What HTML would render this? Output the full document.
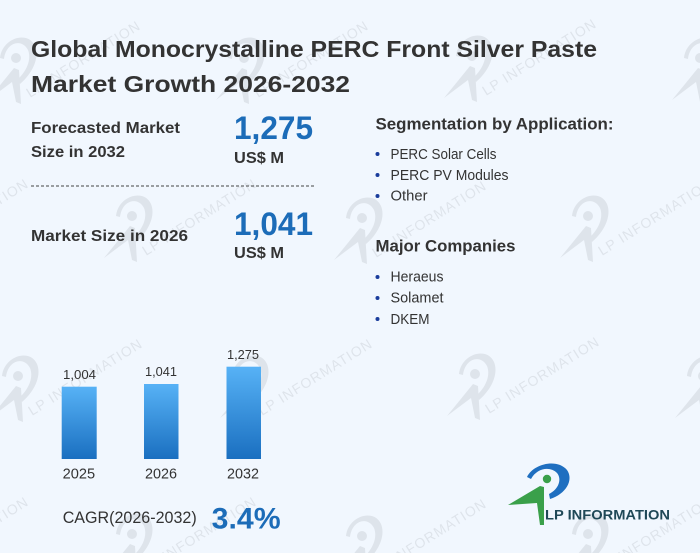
<!DOCTYPE html>
<html><head><meta charset="utf-8"><style>
html,body{margin:0;padding:0;background:#f1f7fe;width:700px;height:553px;overflow:hidden;}
svg{display:block;font-family:"Liberation Sans",sans-serif;overflow:hidden;}
</style></head><body>
<svg width="700" height="553" viewBox="0 0 700 553" xmlns="http://www.w3.org/2000/svg">
<defs>
<linearGradient id="bg" x1="0" y1="0" x2="0" y2="1">
<stop offset="0" stop-color="#57b2f6"/><stop offset="1" stop-color="#1a6fc0"/>
</linearGradient>
<g id="wm" fill="#cdd2d9" opacity="0.5">
<path d="M12 26 C14 6 40 -2 47 14 C52 26 44 42 32 52 L29 48 C38 40 44 28 40 18 C34 6 18 10 16 27 Z"/>
<circle cx="28" cy="26" r="5"/>
<polygon points="0,68 26,36 31,38 33,72 28,70 24,50"/>
<text x="42" y="66" font-size="14" transform="rotate(-32 42 66)" letter-spacing="1">LP INFORMATION</text>
</g>
</defs>
<rect width="700" height="553" fill="#f1f7fe"/>
<!-- watermarks -->
<use href="#wm" x="-12" y="32"/><use href="#wm" x="216" y="32"/><use href="#wm" x="444" y="30"/><use href="#wm" x="672" y="32"/>
<use href="#wm" x="-124" y="190"/><use href="#wm" x="104" y="190"/><use href="#wm" x="334" y="192"/><use href="#wm" x="560" y="190"/>
<use href="#wm" x="-10" y="350"/><use href="#wm" x="220" y="350"/><use href="#wm" x="447" y="348"/><use href="#wm" x="675" y="350"/>
<use href="#wm" x="-124" y="508"/><use href="#wm" x="104" y="508"/><use href="#wm" x="334" y="510"/><use href="#wm" x="560" y="508"/>

<!-- title -->
<g fill="#333" font-weight="bold" font-size="23">
<text x="31" y="57" textLength="566" lengthAdjust="spacingAndGlyphs">Global Monocrystalline PERC Front Silver Paste</text>
<text x="31" y="92" textLength="319" lengthAdjust="spacingAndGlyphs">Market Growth 2026-2032</text>
</g>

<!-- left stats -->
<g fill="#333" font-weight="bold" font-size="16">
<text x="31" y="133" textLength="149" lengthAdjust="spacingAndGlyphs">Forecasted Market</text>
<text x="31" y="157" textLength="94" lengthAdjust="spacingAndGlyphs">Size in 2032</text>
<text x="31" y="241" textLength="157" lengthAdjust="spacingAndGlyphs">Market Size in 2026</text>
<text x="234" y="163" textLength="50" lengthAdjust="spacingAndGlyphs">US$ M</text>
<text x="234" y="258" textLength="50" lengthAdjust="spacingAndGlyphs">US$ M</text>
</g>
<g fill="#1c6cb8" font-weight="bold" font-size="32">
<text x="234" y="139" textLength="79" lengthAdjust="spacingAndGlyphs">1,275</text>
<text x="234" y="235" textLength="79" lengthAdjust="spacingAndGlyphs">1,041</text>
</g>
<line x1="31" y1="186" x2="315" y2="186" stroke="#444" stroke-width="1" stroke-dasharray="3,2"/>

<!-- right column -->
<g fill="#333" font-weight="bold" font-size="17">
<text x="375.5" y="129.5" textLength="238" lengthAdjust="spacingAndGlyphs">Segmentation by Application:</text>
<text x="375.5" y="251.5" textLength="140" lengthAdjust="spacingAndGlyphs">Major Companies</text>
</g>
<g fill="#333" font-size="15">
<text x="390.5" y="159" textLength="106" lengthAdjust="spacingAndGlyphs">PERC Solar Cells</text>
<text x="390.5" y="180" textLength="118" lengthAdjust="spacingAndGlyphs">PERC PV Modules</text>
<text x="390.5" y="200.5" textLength="37" lengthAdjust="spacingAndGlyphs">Other</text>
<text x="390.5" y="281.5" textLength="53" lengthAdjust="spacingAndGlyphs">Heraeus</text>
<text x="390.5" y="302.5" textLength="53" lengthAdjust="spacingAndGlyphs">Solamet</text>
<text x="390.5" y="324" textLength="39" lengthAdjust="spacingAndGlyphs">DKEM</text>
</g>
<g fill="#1a3d9c">
<circle cx="377.5" cy="154" r="2"/><circle cx="377.5" cy="175" r="2"/><circle cx="377.5" cy="196" r="2"/>
<circle cx="377.5" cy="277" r="2"/><circle cx="377.5" cy="298" r="2"/><circle cx="377.5" cy="319" r="2"/>
</g>

<!-- bars -->
<rect x="61.7" y="386.7" width="35" height="72.3" fill="url(#bg)"/>
<rect x="144" y="384" width="34.5" height="75" fill="url(#bg)"/>
<rect x="226.5" y="366.7" width="34.5" height="92.3" fill="url(#bg)"/>
<g fill="#333" font-size="13">
<text x="63" y="379" textLength="33" lengthAdjust="spacingAndGlyphs">1,004</text>
<text x="145" y="376" textLength="32" lengthAdjust="spacingAndGlyphs">1,041</text>
<text x="227" y="359" textLength="32" lengthAdjust="spacingAndGlyphs">1,275</text>
</g>
<g fill="#333" font-size="14.5">
<text x="62.7" y="478.3" textLength="32.5" lengthAdjust="spacingAndGlyphs">2025</text>
<text x="145" y="478.3" textLength="32" lengthAdjust="spacingAndGlyphs">2026</text>
<text x="227" y="478.3" textLength="32" lengthAdjust="spacingAndGlyphs">2032</text>
</g>
<text x="62.7" y="523" fill="#333" font-size="17" textLength="134" lengthAdjust="spacingAndGlyphs">CAGR(2026-2032)</text>
<text x="211.7" y="528.3" fill="#1c6cb8" font-size="30" font-weight="bold" textLength="69" lengthAdjust="spacingAndGlyphs">3.4%</text>

<!-- logo -->
<path d="M527 477 C533 464 557 458 567 470 C574 480 566 494 550 499 L549 494 C559 489 562 479 557 473 C550 466 537 468 531 479 Z" fill="#1f6fc0"/>
<circle cx="547" cy="479" r="4.2" fill="#3aa04a"/>
<polygon points="508,505 540,486 544,487 544,525 540,525 537,503" fill="#3aa04a"/>
<text x="545" y="519.3" fill="#1f4857" font-size="13.5" font-weight="bold" textLength="125" lengthAdjust="spacingAndGlyphs">LP INFORMATION</text>
</svg>
</body></html>
